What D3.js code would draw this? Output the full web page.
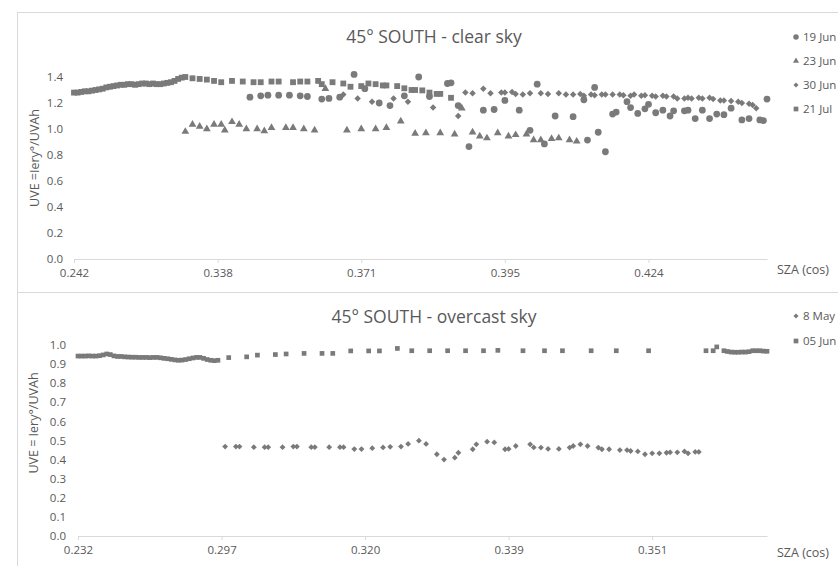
<!DOCTYPE html>
<html><head><meta charset="utf-8">
<script src="https://cdn.jsdelivr.net/npm/d3@7"></script>
<style>
body{margin:0;background:#fff}
svg{display:block}
text{font-family:"Open Sans",sans-serif;fill:#595959}
</style>
</head><body>
<svg id="chart" width="838" height="566"></svg>
<script>
// ---- Clear sky: samples indexed along the SZA (cos) category axis ----
const clearTickLabels = ["0.242", "0.338", "0.371", "0.395", "0.424"];
const clearLastIndex = 193;
const clearYTicks = [0, 0.2, 0.4, 0.6, 0.8, 1.0, 1.2, 1.4];

// [sample index, UVE]
const jun19 = [[49,1.245],[52,1.255],[54,1.26],[57,1.26],[60,1.26],[63,1.255],[65,1.25],[69,1.23],[71,1.235],[74,1.245],
  [78,1.42],[81,1.31],[85,1.20],[88,1.18],[92,1.255],[96,1.40],[99,1.25],[104,1.35],[105,1.355],[107,1.18],
  [110,0.865],[114,1.145],[117,1.15],[120,1.22],[124,1.145],[127,0.99],[129,1.345],[131,0.885],[134,1.10],[139,1.095],
  [142,1.225],[143,0.915],[145,1.32],[146,0.975],[148,0.825],[150,1.115],[151,1.13],[154,1.21],[155,1.165],[157,1.12],
  [159,1.155],[160,1.19],[162,1.125],[164,1.145],[166,1.10],[167,1.14],[170,1.14],[171,1.145],[173,1.08],[175,1.145],
  [177,1.08],[179,1.115],[181,1.11],[183,1.16],[186,1.07],[188,1.08],[191,1.07],[192,1.065],[193,1.23]];

const jun23 = [[31,0.98],[33,1.035],[35,1.02],[37,1.0],[39,1.035],[41,1.035],[42,0.99],[44,1.055],[46,1.035],[48,1.0],
  [51,1.0],[53,0.985],[55,1.01],[59,1.01],[61,1.01],[64,1.0],[67,0.99],[70,1.31],[76,0.99],[80,1.0],[84,1.0],[87,1.01],
  [91,1.06],[95,0.965],[98,0.97],[102,0.97],[106,0.96],[108,1.16],[111,0.975],[113,0.945],[115,0.93],[118,0.97],
  [121,0.945],[123,0.955],[126,0.96],[128,0.915],[130,0.915],[133,0.925],[135,0.93],[138,0.915],[140,0.905]];

const jun30 = [[75,1.265],[79,1.235],[83,1.21],[89,1.235],[93,1.21],[100,1.165],[107,1.10],[109,1.28],[111,1.275],[114,1.31],
  [116,1.275],[119,1.28],[120,1.28],[122,1.285],[123,1.27],[125,1.265],[127,1.275],[130,1.275],[132,1.27],[135,1.275],
  [137,1.265],[139,1.265],[141,1.27],[142,1.255],[144,1.265],[145,1.26],[147,1.265],[148,1.265],[150,1.265],[152,1.265],
  [153,1.26],[155,1.255],[156,1.265],[158,1.255],[159,1.26],[161,1.255],[162,1.25],[164,1.255],[165,1.25],[167,1.25],
  [168,1.235],[170,1.235],[171,1.24],[172,1.235],[174,1.24],[175,1.235],[177,1.24],[178,1.23],[180,1.22],[181,1.22],
  [183,1.215],[185,1.21],[186,1.20],[188,1.195],[189,1.185],[190,1.16]];

const jul21 = [[0,1.28],[1,1.28],[2,1.285],[3,1.29],[4,1.29],[5,1.295],[6,1.30],[7,1.305],[8,1.31],[9,1.32],
  [10,1.325],[11,1.33],[12,1.335],[13,1.34],[14,1.34],[15,1.345],[16,1.345],[17,1.34],[18,1.345],[19,1.35],
  [20,1.35],[21,1.345],[22,1.35],[23,1.345],[24,1.345],[25,1.35],[26,1.355],[27,1.36],[28,1.37],[29,1.385],
  [30,1.395],[31,1.40],[33,1.39],[35,1.385],[37,1.38],[39,1.37],[41,1.36],[44,1.37],[47,1.365],[50,1.36],
  [52,1.36],[55,1.365],[57,1.365],[61,1.36],[63,1.365],[65,1.365],[68,1.37],[69,1.345],[72,1.36],[75,1.35],
  [77,1.325],[80,1.33],[82,1.35],[84,1.345],[86,1.335],[87,1.335],[90,1.33],[92,1.313],[94,1.30],[95,1.30],
  [97,1.297],[99,1.28],[101,1.27],[102,1.27],[105,1.24]];

// ---- Overcast sky ----
const overcastTickLabels = ["0.232", "0.297", "0.320", "0.339", "0.351"];
const overcastLastIndex = 192;
const overcastYTicks = [0, 0.1, 0.2, 0.3, 0.4, 0.5, 0.6, 0.7, 0.8, 0.9, 1.0];

const may8 = [[41,0.468],[44,0.468],[45,0.468],[49,0.465],[52,0.465],[53,0.465],[57,0.465],[60,0.468],[61,0.468],[65,0.465],
  [66,0.465],[70,0.465],[73,0.465],[74,0.465],[77,0.455],[79,0.455],[82,0.46],[85,0.464],[87,0.467],[90,0.468],
  [92,0.482],[95,0.499],[97,0.482],[100,0.428],[102,0.40],[105,0.41],[106,0.436],[110,0.454],[111,0.48],[114,0.494],
  [116,0.49],[119,0.454],[120,0.456],[122,0.471],[126,0.48],[127,0.464],[129,0.463],[131,0.456],[134,0.456],[137,0.463],
  [138,0.471],[140,0.48],[142,0.471],[145,0.463],[146,0.454],[148,0.454],[151,0.45],[153,0.45],[154,0.445],[156,0.443],
  [158,0.428],[160,0.433],[162,0.433],[164,0.436],[165,0.438],[167,0.438],[169,0.443],[170,0.433],[172,0.44],[173,0.44]];

const jun05 = [[0,0.942],[1,0.942],[2,0.942],[3,0.943],[4,0.942],[5,0.942],[6,0.944],[7,0.948],[8,0.953],[9,0.95],
  [10,0.943],[11,0.94],[12,0.94],[13,0.938],[14,0.937],[15,0.936],[16,0.936],[17,0.935],[18,0.935],[19,0.935],
  [20,0.934],[21,0.935],[22,0.935],[23,0.933],[24,0.93],[25,0.928],[26,0.925],[27,0.922],[28,0.92],[29,0.921],
  [30,0.924],[31,0.928],[32,0.932],[33,0.935],[34,0.935],[35,0.93],[36,0.924],[37,0.92],[38,0.918],[39,0.92],
  [42,0.934],[47,0.938],[50,0.947],[55,0.95],[58,0.953],[63,0.956],[68,0.956],[71,0.956],[76,0.969],[81,0.969],
  [84,0.969],[89,0.982],[93,0.97],[98,0.97],[103,0.97],[108,0.97],[113,0.97],[117,0.972],[124,0.97],[130,0.97],
  [135,0.97],[143,0.97],[150,0.97],[159,0.97],[175,0.97],[177,0.97],[178,0.99],[180,0.97],[181,0.966],[182,0.963],
  [183,0.962],[184,0.962],[185,0.963],[186,0.963],[187,0.965],[188,0.97],[189,0.97],[190,0.97],[191,0.968],[192,0.967]];

const tickEvery = 40;
const markColor = "#7a7a7a";
const gridColor = "#d9d9d9";

const svg = d3.select("#chart");

// Chart frames
svg.append("rect").attr("x", 17.5).attr("y", 12.5).attr("width", 830).attr("height", 280)
  .attr("fill", "none").attr("stroke", gridColor);
svg.append("rect").attr("x", 17.5).attr("y", 292.5).attr("width", 830).attr("height", 290)
  .attr("fill", "none").attr("stroke", gridColor);

const shapes = {
  circle: d3.symbolCircle,
  triangle: d3.symbolTriangle,
  square: d3.symbolSquare,
  diamond: d3.symbolSquare
};

function drawMarks(g, data, x, y, shape, size) {
  const path = d3.symbol().type(shapes[shape]).size(size)();
  g.selectAll(null).data(data).join("path")
    .attr("d", path)
    .attr("fill", markColor)
    .attr("transform", d => `translate(${x(d[0])},${y(d[1])})` + (shape === "diamond" ? " rotate(45)" : ""));
}

function panel(cfg) {
  const g = svg.append("g");
  const x = d3.scaleLinear().domain([0, cfg.lastIndex]).range(cfg.xRange);
  const y = d3.scaleLinear().domain([0, cfg.yMax]).range(cfg.yRange);

  // title
  g.append("text").attr("x", cfg.titleX).attr("y", cfg.titleY)
    .attr("text-anchor", "middle").attr("font-size", 17.5).text(cfg.title);

  // x axis (category ticks every 40 samples)
  const tickIdx = cfg.tickLabels.map((_, i) => i * tickEvery);
  const xAxis = g.append("g").attr("transform", `translate(0,${cfg.yRange[0]})`)
    .call(d3.axisBottom(x).tickValues(tickIdx).tickFormat((d, i) => cfg.tickLabels[i])
      .tickSize(4).tickSizeOuter(0).tickPadding(6));
  xAxis.select(".domain").attr("stroke", gridColor);
  xAxis.selectAll(".tick line").attr("stroke", gridColor);
  xAxis.selectAll(".tick text").attr("font-size", 11.5).attr("fill", "#595959")
    .attr("font-family", "'Open Sans',sans-serif");

  // y axis (labels only)
  const yAxis = g.append("g").attr("transform", `translate(${cfg.xRange[0]},0)`)
    .call(d3.axisLeft(y).tickValues(cfg.yTicks).tickFormat(d3.format(".1f")).tickSize(0).tickPadding(cfg.yPad));
  yAxis.select(".domain").remove();
  yAxis.selectAll(".tick text").attr("font-size", 11.5).attr("fill", "#595959")
    .attr("font-family", "'Open Sans',sans-serif");

  // axis titles
  g.append("text").attr("transform", `translate(${cfg.yTitleX},${cfg.yTitleY}) rotate(-90)`)
    .attr("text-anchor", "middle").attr("dy", "0.35em").attr("font-size", 12.5).text(cfg.yTitle);
  g.append("text").attr("x", 777).attr("y", cfg.xTitleY).attr("dy", "0.35em")
    .attr("font-size", 12.5).text("SZA (cos)");

  // series
  cfg.series.forEach(s => drawMarks(g.append("g"), s.data, x, y, s.shape, s.size));

  // legend
  cfg.series.forEach((s, i) => {
    const ly = cfg.legendY[i];
    const p = d3.symbol().type(shapes[s.shape]).size(s.legendSize)();
    g.append("path").attr("d", p).attr("fill", markColor)
      .attr("transform", `translate(796,${ly})` + (s.shape === "diamond" ? " rotate(45)" : ""));
    g.append("text").attr("x", 803).attr("y", ly).attr("dy", "0.35em")
      .attr("font-size", 11.5).text(s.name);
  });
}

panel({
  title: "45° SOUTH - clear sky", titleX: 434, titleY: 43,
  xRange: [74, 767], yRange: [259, 77], yMax: 1.4, yTicks: clearYTicks, yPad: 11,
  lastIndex: clearLastIndex, tickLabels: clearTickLabels,
  yTitle: "UVE =Iery°/UVAh", yTitleX: 35, yTitleY: 158, xTitleY: 270,
  legendY: [37, 61, 85, 109],
  series: [
    {name: "19 Jun", data: jun19, shape: "circle", size: 36, legendSize: 24},
    {name: "23 Jun", data: jun23, shape: "triangle", size: 26, legendSize: 16},
    {name: "30 Jun", data: jun30, shape: "diamond", size: 21, legendSize: 13},
    {name: "21 Jul", data: jul21, shape: "square", size: 34, legendSize: 22}
  ]
});

panel({
  title: "45° SOUTH - overcast sky", titleX: 434, titleY: 323,
  xRange: [78, 767], yRange: [536, 345], yMax: 1.0, yTicks: overcastYTicks, yPad: 12,
  lastIndex: overcastLastIndex, tickLabels: overcastTickLabels,
  yTitle: "UVE = Iery°/UVAh", yTitleX: 34, yTitleY: 423, xTitleY: 553,
  legendY: [316, 341],
  series: [
    {name: "8 May", data: may8, shape: "diamond", size: 17, legendSize: 13},
    {name: "05 Jun", data: jun05, shape: "square", size: 22, legendSize: 22}
  ]
});
</script>
</body></html>
